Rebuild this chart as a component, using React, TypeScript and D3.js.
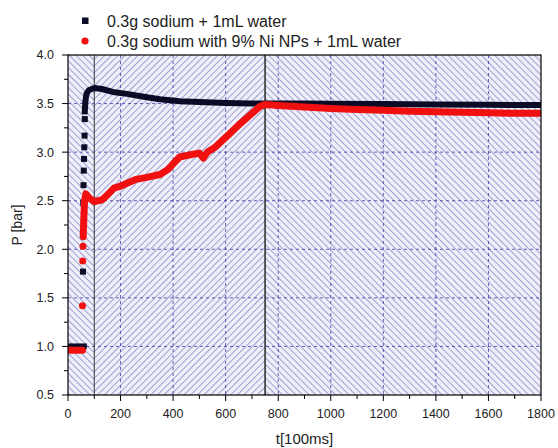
import React from "react";
import * as d3 from "d3";

// legend labels
const seriesNames = [
  "0.3g sodium + 1mL water",
  "0.3g sodium with 9% Ni NPs + 1mL water",
];

// black series (0.3g sodium + water)
const blackStartX = [5, 20, 40, 60];
const blackStartY = [1.0, 1.0, 1.0, 1.0];
const blackJumpX = [57, 58, 59, 60, 61, 62, 63, 64];
const blackJumpY = [1.77, 2.48, 2.66, 2.81, 2.93, 3.05, 3.17, 3.34];
const blackCurveX = [64, 66, 70, 80, 100, 130, 170, 224, 300, 350, 425, 500, 600, 700, 750, 900, 1000, 1200, 1400, 1600, 1800];
const blackCurveY = [3.42, 3.52, 3.6, 3.64, 3.66, 3.65, 3.62, 3.6, 3.565, 3.545, 3.525, 3.515, 3.505, 3.5, 3.5, 3.5, 3.497, 3.495, 3.49, 3.487, 3.485];

// red series (with 9% Ni NPs)
const redStartX = [8, 20, 40, 55];
const redStartY = [0.96, 0.96, 0.96, 0.96];
const redJumpX = [55, 56, 57, 58];
const redJumpY = [1.42, 1.88, 2.03, 2.13];
const redCurveX = [58, 60, 63, 68, 80, 100, 130, 150, 175, 200, 224, 260, 300, 350, 380, 400, 425, 460, 500, 515, 530, 560, 603, 650, 700, 730, 750, 800, 900, 1000, 1100, 1200, 1300, 1400, 1500, 1600, 1700, 1800];
const redCurveY = [2.15, 2.3, 2.5, 2.57, 2.53, 2.49, 2.51, 2.56, 2.63, 2.65, 2.68, 2.72, 2.74, 2.77, 2.82, 2.88, 2.95, 2.97, 2.99, 2.94, 3.0, 3.05, 3.16, 3.28, 3.4, 3.47, 3.49, 3.48, 3.465, 3.45, 3.44, 3.43, 3.42, 3.415, 3.41, 3.405, 3.4, 3.4];

// hatched regions and markers
const regionBounds = [0, 100, 750, 1800];
const regionHatch = ["back", "fwd", "back"];
const dividerX = [100, 750];

// ticks
const xTicks = [0, 200, 400, 600, 800, 1000, 1200, 1400, 1600, 1800];
const xMinor = [100, 300, 500, 700, 900, 1100, 1300, 1500, 1700];
const yTicks = [0.5, 1.0, 1.5, 2.0, 2.5, 3.0, 3.5, 4.0];
const yMinor = [0.75, 1.25, 1.75, 2.25, 2.75, 3.25, 3.75];

const W = 558;
const H = 448;
const m = { left: 68, right: 541, top: 55, bottom: 395 };

const BLACK = "#0b0b26";
const RED = "#f01010";

const zip = (xs: number[], ys: number[]) => xs.map((x, i) => [x, ys[i]] as [number, number]);

export default function App() {
  const x = d3.scaleLinear().domain([0, 1800]).range([m.left, m.right]);
  const y = d3.scaleLinear().domain([0.5, 4.0]).range([m.bottom, m.top]);
  const line = d3
    .line<[number, number]>()
    .x((d) => x(d[0]))
    .y((d) => y(d[1]));
  const fmt = d3.format(".1f");

  return (
    <svg
      width={W}
      height={H}
      style={{ position: "absolute", left: 0, top: 0, background: "#fff" }}
      fontFamily="'Liberation Sans', Arial, sans-serif"
    >
      <defs>
        <pattern id="back" width={4.7} height={4.7} patternUnits="userSpaceOnUse" patternTransform="rotate(-45)">
          <rect width={4.7} height={4.7} fill="#efeff9" />
          <line x1={0.5} y1={0} x2={0.5} y2={4.7} stroke="#8c8cca" strokeWidth={0.8} />
        </pattern>
        <pattern id="fwd" width={4.7} height={4.7} patternUnits="userSpaceOnUse" patternTransform="rotate(45)">
          <rect width={4.7} height={4.7} fill="#efeff9" />
          <line x1={0.5} y1={0} x2={0.5} y2={4.7} stroke="#8c8cca" strokeWidth={0.8} />
        </pattern>
        <clipPath id="plot">
          <rect x={m.left} y={m.top} width={m.right - m.left} height={m.bottom - m.top} />
        </clipPath>
      </defs>

      {regionHatch.map((h, i) => (
        <rect
          key={i}
          x={x(regionBounds[i])}
          y={m.top}
          width={x(regionBounds[i + 1]) - x(regionBounds[i])}
          height={m.bottom - m.top}
          fill={`url(#${h})`}
        />
      ))}

      {/* grid */}
      <g stroke="#3a3aa8" strokeWidth={0.8} strokeDasharray="3,3">
        {xTicks.slice(1, -1).map((t) => (
          <line key={t} x1={x(t)} x2={x(t)} y1={m.top} y2={m.bottom} />
        ))}
        {yTicks.slice(1, -1).map((t) => (
          <line key={t} x1={m.left} x2={m.right} y1={y(t)} y2={y(t)} />
        ))}
      </g>

      {dividerX.map((d, i) => (
        <line key={d} x1={x(d)} x2={x(d)} y1={m.top} y2={m.bottom} stroke="#333" strokeWidth={i === 0 ? 1 : 1.6} />
      ))}

      <g clipPath="url(#plot)">
        {/* black series */}
        <path d={line(zip(blackStartX, blackStartY)) || ""} fill="none" stroke={BLACK} strokeWidth={6} strokeLinecap="square" />
        {zip(blackJumpX, blackJumpY).map((p, i) => (
          <rect key={i} x={x(p[0]) - 3} y={y(p[1]) - 3} width={6} height={6} fill={BLACK} />
        ))}
        <path d={line(zip(blackCurveX, blackCurveY)) || ""} fill="none" stroke={BLACK} strokeWidth={6} strokeLinecap="square" strokeLinejoin="round" />

        {/* red series */}
        <path d={line(zip(redStartX, redStartY)) || ""} fill="none" stroke={RED} strokeWidth={7} strokeLinecap="round" />
        {zip(redJumpX, redJumpY).map((p, i) => (
          <circle key={i} cx={x(p[0])} cy={y(p[1])} r={3.5} fill={RED} />
        ))}
        <path d={line(zip(redCurveX, redCurveY)) || ""} fill="none" stroke={RED} strokeWidth={7} strokeLinecap="round" strokeLinejoin="round" />
      </g>

      {/* frame */}
      <rect x={m.left} y={m.top} width={m.right - m.left} height={m.bottom - m.top} fill="none" stroke="#000" strokeWidth={1.2} />

      {/* ticks */}
      <g stroke="#000" strokeWidth={1}>
        {xTicks.map((t) => (
          <line key={t} x1={x(t)} x2={x(t)} y1={m.bottom} y2={m.bottom + 6} />
        ))}
        {xMinor.map((t) => (
          <line key={t} x1={x(t)} x2={x(t)} y1={m.bottom} y2={m.bottom + 4} />
        ))}
        {yTicks.map((t) => (
          <line key={t} x1={m.left - 6} x2={m.left} y1={y(t)} y2={y(t)} />
        ))}
        {yMinor.map((t) => (
          <line key={t} x1={m.left - 4} x2={m.left} y1={y(t)} y2={y(t)} />
        ))}
      </g>
      <g fontSize={12.5} fill="#222">
        {xTicks.map((t) => (
          <text key={t} x={x(t)} y={m.bottom + 22.5} textAnchor="middle">
            {t}
          </text>
        ))}
        {yTicks.map((t) => (
          <text key={t} x={m.left - 14} y={y(t)} dy="0.35em" textAnchor="end">
            {fmt(t)}
          </text>
        ))}
      </g>

      <text x={(m.left + m.right) / 2} y={444} textAnchor="middle" fontSize={15} fill="#222">
        t[100ms]
      </text>
      <text transform={`translate(22 ${(m.top + m.bottom) / 2}) rotate(-90)`} textAnchor="middle" fontSize={14} fill="#222">
        P [bar]
      </text>

      {/* legend */}
      <rect x={82} y={17.5} width={6.5} height={6.5} fill={BLACK} />
      <circle cx={85} cy={41} r={3.6} fill={RED} />
      <g fontSize={16} fill="#222">
        <text x={107} y={26.5}>{seriesNames[0]}</text>
        <text x={107} y={46.5}>{seriesNames[1]}</text>
      </g>
    </svg>
  );
}
